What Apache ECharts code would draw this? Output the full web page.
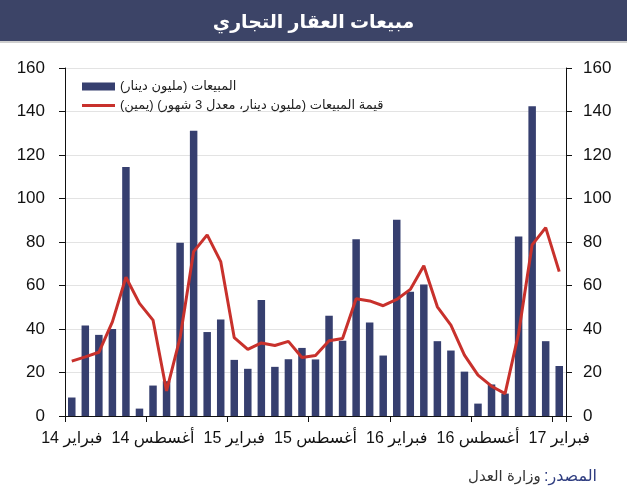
<!DOCTYPE html>
<html>
<head>
<meta charset="utf-8">
<script src="https://cdn.jsdelivr.net/npm/echarts@6/dist/echarts.min.js"></script>
<style>
  html, body { margin: 0; padding: 0; background: #fff; }
  #main { width: 627px; height: 500px; }
</style>
</head>
<body>
<div id="main"></div>
<script>
var FONT = 'Arial, "Liberation Sans", "DejaVu Sans", sans-serif';
var RLM = '\u200F';

// months Feb 2014 .. Feb 2017
var monthNames = ['يناير', 'فبراير', 'مارس', 'أبريل', 'مايو', 'يونيو', 'يوليو', 'أغسطس', 'سبتمبر', 'أكتوبر', 'نوفمبر', 'ديسمبر'];
var months = [];
for (var i = 0; i < 37; i++) {
    months.push((14 + Math.floor((1 + i) / 12)) + ' ' + monthNames[(1 + i) % 12]);
}

// sales, million KD (bars, left axis)
var sales = [8.5, 41.6, 37.3, 40, 114.5, 3.4, 14, 16, 79.7, 131.2, 38.6, 44.4, 25.8, 21.7, 53.3, 22.6, 26.1, 31.3, 26, 46.1,
    34.6, 81.3, 43, 27.8, 90.2, 57.1, 60.5, 34.4, 30.1, 20.4, 5.7, 14.5, 10.3, 82.5, 142.4, 34.4, 23];
// 3 month average (line, right axis)
var avg3m = [25.2, 27.2, 29.3, 43.3, 63.8, 51.8, 44.1, 11.5, 36, 75.6, 83.3, 71, 36, 30.6, 33.6, 32.4, 34.3, 26.9, 27.8, 34.6,
    35.6, 53.9, 52.9, 50.7, 53.6, 58.2, 69.1, 50.2, 41.8, 28, 18.8, 13.7, 10.3, 38, 78.7, 86.6, 66.4];

var salesName = RLM + 'المبيعات (مليون دينار)' + RLM;
var avgName = RLM + 'قيمة المبيعات (مليون دينار، معدل 3 شهور) (يمين)' + RLM;

var chart = echarts.init(document.getElementById('main'));

function valueAxis(pos, margin) {
    return {
        type: 'value',
        position: pos,
        min: 0,
        max: 160,
        interval: 20,
        axisLine: {show: true, lineStyle: {color: '#111', width: 1}},
        axisTick: {show: true, length: 6, lineStyle: {color: '#111'}},
        axisLabel: {color: '#111', fontSize: 17, fontFamily: FONT, margin: margin},
        splitLine: {show: pos === 'left', lineStyle: {color: '#e3e3e3', width: 1}}
    };
}

var option = {
    backgroundColor: '#fff',
    animation: false,
    title: {
        text: 'مبيعات العقار التجاري',
        left: 'center',
        top: 8,
        textStyle: {color: '#fff', fontSize: 19, fontWeight: 'bold', fontFamily: FONT}
    },
    graphic: [
        {type: 'rect', left: 0, top: 0, z: -1, shape: {width: 627, height: 41}, style: {fill: '#3c4467'}},
        {type: 'rect', left: 0, top: 41, z: -1, shape: {width: 627, height: 2}, style: {fill: '#cfcfcf'}},
        {
            type: 'text', right: 30, top: 469,
            style: {
                text: '{b|وزارة العدل} {a|:المصدر}',
                rich: {
                    a: {fontSize: 16, fontFamily: FONT, fill: '#2f3d80'},
                    b: {fontSize: 15, fontFamily: FONT, fill: '#333'}
                }
            }
        }
    ],
    legend: {
        orient: 'vertical',
        left: 77,
        top: 75,
        itemWidth: 33,
        itemHeight: 8,
        itemGap: 6,
        textStyle: {fontSize: 13, color: '#222', fontFamily: FONT},
        data: [
            {name: salesName, icon: 'rect'},
            {name: avgName, icon: 'path://M0,0 L110,0 L110,10 L0,10 Z', itemStyle: {color: '#c8312c'}}
        ]
    },
    grid: {left: 65, right: 61, top: 68, bottom: 84, outerBoundsMode: 'none'},
    xAxis: {
        type: 'category',
        data: months,
        boundaryGap: true,
        axisLine: {lineStyle: {color: '#111', width: 1}},
        axisTick: {show: true, interval: 5, length: 6, lineStyle: {color: '#111'}},
        axisLabel: {interval: 5, color: '#111', fontSize: 16, fontFamily: FONT, margin: 15}
    },
    yAxis: [valueAxis('left', 20), valueAxis('right', 17)],
    series: [
        {
            name: salesName,
            type: 'bar',
            data: sales,
            barWidth: 7.5,
            itemStyle: {color: '#363f6f'}
        },
        {
            name: avgName,
            type: 'line',
            yAxisIndex: 1,
            data: avg3m,
            symbol: 'none',
            lineStyle: {color: '#c8312c', width: 3},
            itemStyle: {color: '#c8312c'}
        }
    ]
};

chart.setOption(option);
</script>
</body>
</html>
